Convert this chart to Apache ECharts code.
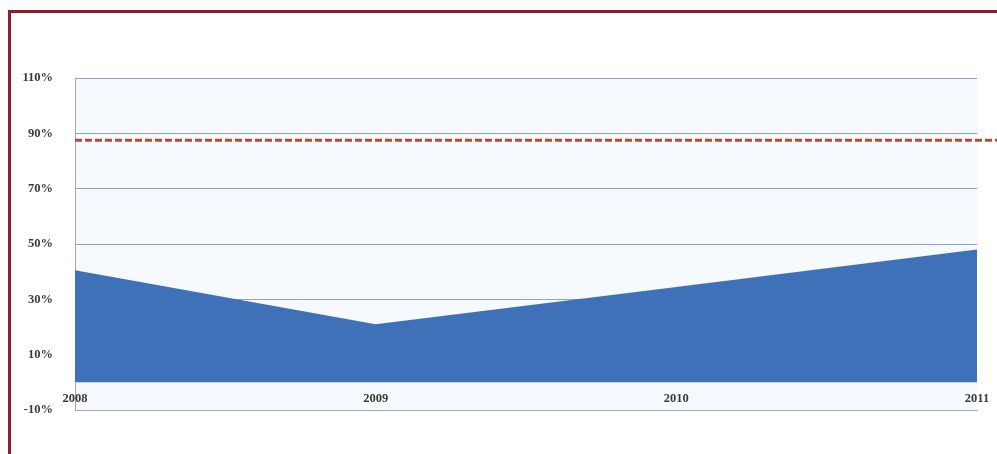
<!DOCTYPE html>
<html>
<head>
<meta charset="utf-8">
<script src="https://cdn.jsdelivr.net/npm/echarts@6/dist/echarts.min.js"></script>
<style>
html,body{margin:0;padding:0;background:#fff;overflow:hidden;}
#frame{position:absolute;left:8px;top:10px;width:1100px;height:600px;border-left:3px solid #8c1d2e;border-top:3px solid #8c1d2e;box-sizing:border-box;}
#chart{position:absolute;left:0;top:0;width:997px;height:454px;}
</style>
</head>
<body>
<div id="frame"></div>
<div id="chart"></div>
<script>
const categories = ['2008', '2009', '2010', '2011'];
const values = [40.5, 21, 34.5, 48];
const targetValue = 87.5;
const yTicks = { min: -10, max: 110, step: 20 };

const chart = echarts.init(document.getElementById('chart'));
const labelFont = { fontFamily: '"Liberation Serif","Times New Roman",serif', fontWeight: 'bold', fontSize: 12.5, color: '#3a3a3a' };

chart.setOption({
  animation: false,
  grid: [
    { left: 75, right: 20, top: 78, bottom: 44, show: true, backgroundColor: '#f6f9fd', borderWidth: 0 },
    { left: 75, right: 0, top: 78, bottom: 44, show: false }
  ],
  xAxis: [
    {
      type: 'category', data: categories, boundaryGap: false, gridIndex: 0,
      axisLine: { onZero: false, lineStyle: { color: '#a8a8a8', width: 1 } },
      axisTick: { show: false },
      axisLabel: Object.assign({ margin: -18 }, labelFont),
      splitLine: { show: false }
    },
    { type: 'value', gridIndex: 1, min: 0, max: 1, show: false }
  ],
  yAxis: [
    {
      type: 'value', gridIndex: 0, min: yTicks.min, max: yTicks.max, interval: yTicks.step,
      axisLine: { show: true, lineStyle: { color: '#a8a8a8', width: 1 } },
      axisTick: { show: false },
      axisLabel: Object.assign({ margin: 22, formatter: v => v + '%' }, labelFont),
      splitLine: { show: true, lineStyle: { color: '#8ea3c9', width: 1 } }
    },
    { type: 'value', gridIndex: 1, min: yTicks.min, max: yTicks.max, show: false }
  ],
  series: [
    {
      type: 'line', xAxisIndex: 0, yAxisIndex: 0, data: values,
      symbol: 'none', lineStyle: { width: 0 },
      areaStyle: { color: '#3f71b8', opacity: 1, origin: 0 }
    },
    {
      type: 'line', xAxisIndex: 1, yAxisIndex: 1,
      data: [[0, targetValue], [1, targetValue]],
      symbol: 'none',
      lineStyle: { color: '#b84a3a', width: 3, type: [7, 3] }
    }
  ]
});
</script>
</body>
</html>
